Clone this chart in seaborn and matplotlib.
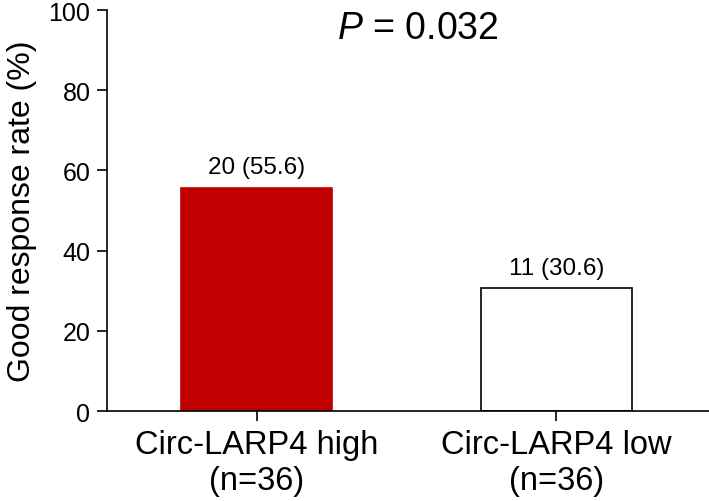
import matplotlib
matplotlib.use("Agg")
import matplotlib.pyplot as plt
import seaborn as sns
import pandas as pd

# data
groups = ["Circ-LARP4 high\n(n=36)", "Circ-LARP4 low\n(n=36)"]
good_counts = [20, 11]
good_rates = [55.6, 30.6]
bar_colors = ["#C00000", "#FFFFFF"]
p_text = "$\\it{P}$ = 0.032"

sns.set_style("ticks", {'axes.edgecolor': 'black', 'xtick.color': 'black',
                        'ytick.color': 'black', 'text.color': 'black',
                        'axes.labelcolor': 'black'})
plt.rcParams['font.family'] = ['Liberation Sans', 'DejaVu Sans']
plt.rcParams['mathtext.fontset'] = 'custom'
plt.rcParams['mathtext.it'] = 'Liberation Sans:italic'
plt.rcParams['mathtext.rm'] = 'Liberation Sans'

df = pd.DataFrame({'group': groups, 'rate': good_rates})

fig = plt.figure(figsize=(7.09, 5.02), dpi=100)
ax = fig.add_axes([0.151, 0.179, 0.849, 0.799])

sns.barplot(data=df, x='group', y='rate', hue='group', palette=bar_colors,
            saturation=1, width=0.503, edgecolor='black', linewidth=1.2,
            legend=False, ax=ax)
# red bar without outline
ax.patches[0].set_edgecolor('#C00000')

# labels above bars
for bar, n, r in zip(ax.patches, good_counts, good_rates):
    ax.annotate(f"{n} ({r})", (bar.get_x() + bar.get_width() / 2, bar.get_height()),
                xytext=(0, 7), textcoords='offset points',
                ha='center', va='bottom', fontsize=17.5, color='black')

ax.set_xlim(-0.5, 1.51)
ax.set_ylim(0, 100)
ax.set_yticks([0, 20, 40, 60, 80, 100])
ax.set_xlabel('')
ax.set_ylabel('Good response rate (%)', fontsize=23, labelpad=8, color='black')
ax.tick_params(axis='y', labelsize=18, length=7, width=1.2, pad=5, colors='black')
ax.tick_params(axis='x', labelsize=23.5, length=7, width=1.2, pad=6, colors='black')
for lab in ax.get_xticklabels():
    lab.set_multialignment('center')

sns.despine(ax=ax)
ax.spines['left'].set_linewidth(1.2)
ax.spines['bottom'].set_linewidth(1.2)
ax.spines['left'].set_color('black')
ax.spines['bottom'].set_color('black')

ax.text(0.517, 0.955, p_text, transform=ax.transAxes, ha='center', va='center',
        fontsize=27, color='black')

fig.savefig('out.png', dpi=100)
